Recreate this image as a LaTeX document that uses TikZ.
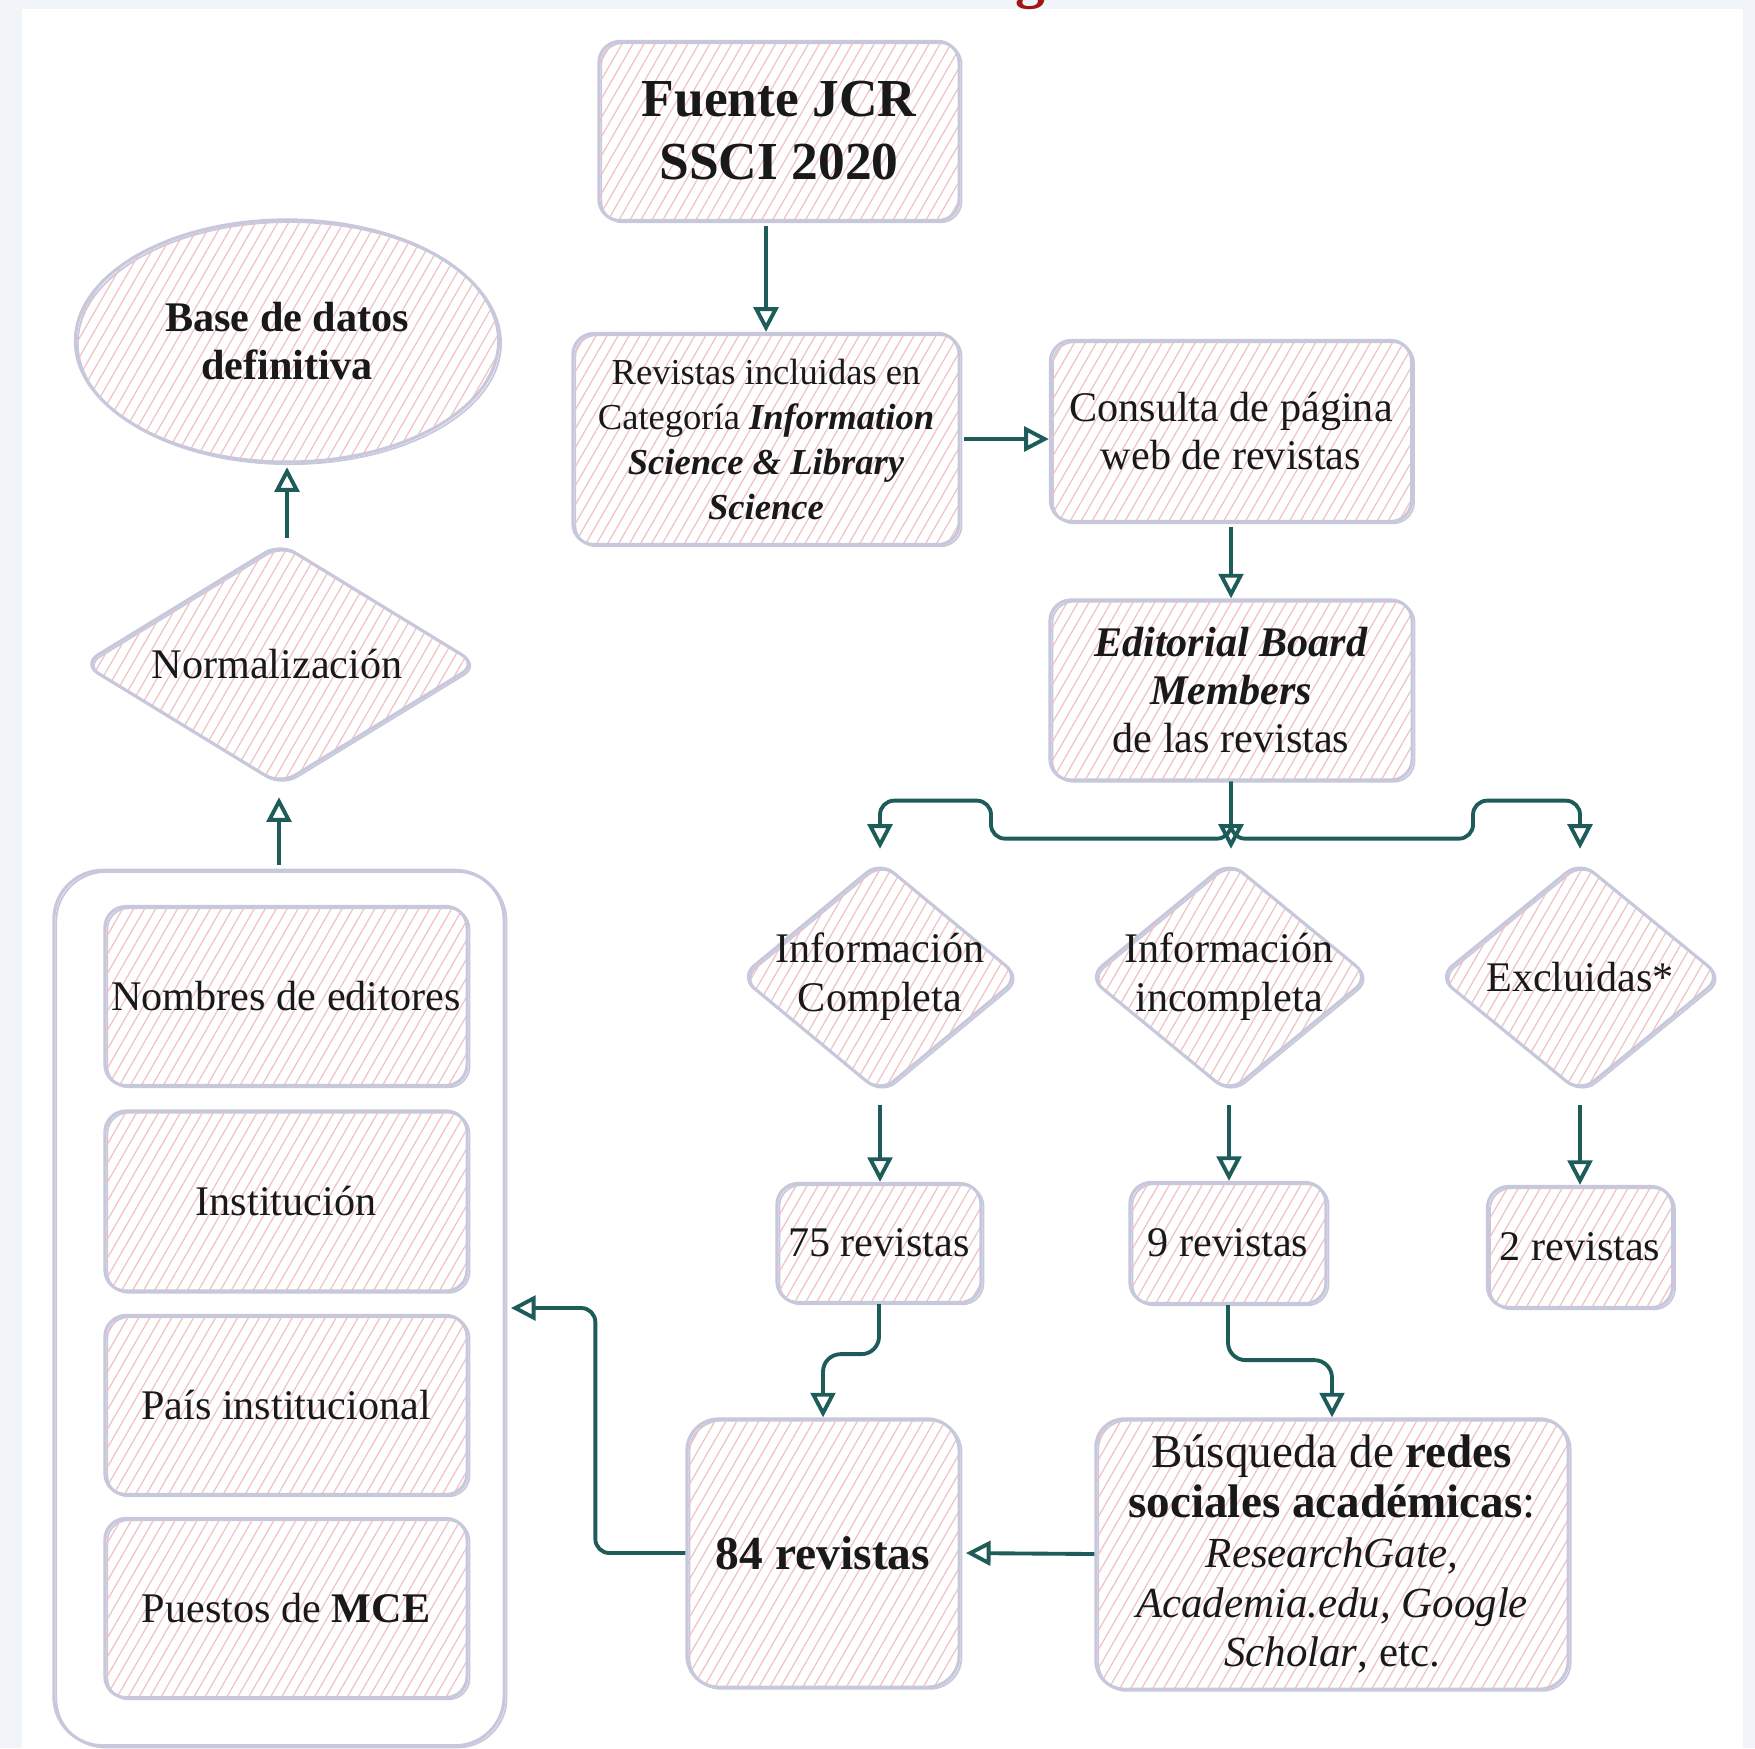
\documentclass[tikz,border=0pt]{standalone}
\usepackage{fontspec}
\setmainfont{Liberation Serif}
\usetikzlibrary{shapes.geometric,arrows.meta,patterns.meta}
\definecolor{edgecol}{HTML}{C8C8DD}
\definecolor{hatchcol}{HTML}{F2C2C2}
\definecolor{conncol}{HTML}{1D5C59}
\definecolor{outercol}{HTML}{F1F4F9}
\definecolor{gredcol}{HTML}{A31515}
\tikzset{
  hatchfill/.style={pattern={Lines[angle=60,distance=2.7pt,line width=0.35pt]}, pattern color=hatchcol},
  sk/.style={hatchfill, draw=edgecol, line width=0.9pt, inner sep=0pt, align=center,
    text=black!90, rounded corners=6pt, font=\fontsize{12}{13.7}\selectfont,
    preaction={draw=edgecol, line width=0.5pt, transform canvas={shift={(0.7pt,-0.5pt)}}}},
  dia/.style={diamond, hatchfill, draw=edgecol, line width=0.9pt, rounded corners=5pt, inner sep=0pt,
    preaction={draw=edgecol, line width=0.5pt, transform canvas={shift={(0.6pt,-0.5pt)}}}},
  txt/.style={align=center, inner sep=0pt, text=black!90, font=\fontsize{12}{13.9}\selectfont},
  conn/.style={draw=conncol, line width=1.1pt, rounded corners=4pt,
    -{Triangle[open, length=7pt, width=7pt]}},
}
\begin{document}
\begin{tikzpicture}[x=0.01cm,y=-0.01cm]
\useasboundingbox (0,0) rectangle (1755,1748);
\clip (0,0) rectangle (1755,1748);
\fill[outercol] (0,0) rectangle (1755,1748);
\fill[white] (22,9) rectangle (1743,1760);
\node[anchor=base, inner sep=0pt, text=gredcol, font=\bfseries\fontsize{17}{17}\selectfont] (gchar) at (1030,-4) {g};

% top chain
\node[sk, minimum width=3.60cm, minimum height=1.79cm, font=\bfseries\fontsize{15.2}{17.9}\selectfont] (fuente) at (779,131) {Fuente JCR\\SSCI 2020};
\node[sk, minimum width=3.86cm, minimum height=2.11cm, font=\fontsize{10.4}{12.8}\selectfont] (rev) at (766,439)
  {Revistas incluidas en\\Categoría \textbf{\textit{Information}}\\\textbf{\textit{Science \& Library}}\\\textbf{\textit{Science}}};
\node[sk, minimum width=3.61cm, minimum height=1.81cm] (con) at (1231,431) {Consulta de página\\web de revistas};
\node[sk, minimum width=3.62cm, minimum height=1.80cm] (ed) at (1231,690) {\textbf{\textit{Editorial Board}}\\\textbf{\textit{Members}}\\de las revistas};

% diamonds
\node[dia, minimum width=2.80cm, minimum height=2.32cm] (ic) at (880,977) {};
\node[txt] (ictext) at (ic) {Información\\Completa};
\node[dia, minimum width=2.82cm, minimum height=2.32cm] (ii) at (1229,977) {};
\node[txt] (iitext) at (ii) {Información\\incompleta};
\node[dia, minimum width=2.84cm, minimum height=2.32cm] (ex) at (1580,977) {};
\node[txt] (extext) at (ex) {Excluidas*};

% counts
\node[sk, minimum width=2.04cm, minimum height=1.19cm] (r75) at (879,1243) {75 revistas};
\node[sk, minimum width=1.96cm, minimum height=1.21cm] (r9) at (1228,1243) {9 revistas};
\node[sk, minimum width=1.85cm, minimum height=1.21cm] (r2) at (1580,1247) {2 revistas};
\node[sk, minimum width=2.72cm, minimum height=2.68cm, rounded corners=9pt, font=\bfseries\fontsize{13.5}{15}\selectfont] (r84) at (823,1553) {84 revistas};
\node[sk, minimum width=4.72cm, minimum height=2.70cm, rounded corners=8pt, font=\fontsize{12.2}{14.2}\selectfont] (bus) at (1332,1554)
  {{\fontsize{13.4}{14.2}\selectfont Búsqueda de \textbf{redes}}\\{\fontsize{13.4}{14.6}\selectfont\textbf{sociales académicas}:}\\\textit{ResearchGate,}\\\textit{Academia.edu, Google}\\\textit{Scholar}, etc.};

% left column
\node[draw=edgecol, line width=0.9pt, rounded corners=14pt, minimum width=4.50cm, minimum height=8.75cm,
  preaction={draw=edgecol, line width=0.5pt, transform canvas={shift={(0.7pt,-0.5pt)}}}] (cont) at (279,1308) {};
\node[sk, minimum width=3.62cm, minimum height=1.79cm] (nom) at (286,996) {Nombres de editores};
\node[sk, minimum width=3.62cm, minimum height=1.80cm] (ins) at (286,1201) {Institución};
\node[sk, minimum width=3.62cm, minimum height=1.79cm] (pai) at (286,1405) {País institucional};
\node[sk, minimum width=3.62cm, minimum height=1.79cm] (pue) at (286,1608) {Puestos de \textbf{MCE}};
\node[dia, minimum width=3.95cm, minimum height=2.42cm] (norm) at (280,664) {};
\node[txt] (normtext) at (277,664) {Normalización};
\node[ellipse, hatchfill, draw=edgecol, line width=0.9pt, inner sep=0pt, align=center, text=black!90,
  minimum width=4.23cm, minimum height=2.42cm, font=\bfseries\fontsize{12}{13.7}\selectfont,
  preaction={draw=edgecol, line width=0.5pt, transform canvas={shift={(0.7pt,-0.6pt)}}}] (base) at (287,341) {Base de datos\\definitiva};

% connectors
\draw[conn, shorten <=1pt] (rev.north |- fuente.south) -- (rev.north);
\draw[conn, shorten <=1pt] (rev.east) -- (con.west |- rev.east);
\draw[conn, shorten <=1pt] (con.south) -- (ed.north);
\draw[conn, shorten >=3pt] (ed.south) -- ++(0,57) -| ++(-240,-38) -| (ic.north);
\draw[conn, shorten >=3pt] (ed.south) -- (ed.south |- ii.north);
\draw[conn, shorten >=3pt] (ed.south) -- ++(0,57) -| ++(242,-38) -| (ex.north);
\draw[conn, shorten <=3pt] (ic.south) -- (ic.south |- r75.north);
\draw[conn, shorten <=3pt] (ii.south) -- (ii.south |- r9.north);
\draw[conn, shorten <=3pt] (ex.south) -- (ex.south |- r2.north);
\draw[conn, rounded corners=5pt] (r75.south) -- ++(0,50) -| (r84.north);
\draw[conn, rounded corners=5pt] (r9.south) -- ++(0,55) -| (bus.north);
\draw[conn, shorten >=1.5pt] (bus.west) -- (r84.west -| r84.east);
\draw[conn, shorten >=1.5pt] (r84.west) -- ++(-90,0) |- (cont.east);
\draw[conn, shorten <=1pt, shorten >=3pt] (cont.north) -- (cont.north |- norm.south);
\draw[conn, shorten <=1pt, shorten >=1pt] (base.south |- norm.north) -- (base.south);
\end{tikzpicture}
\end{document}
